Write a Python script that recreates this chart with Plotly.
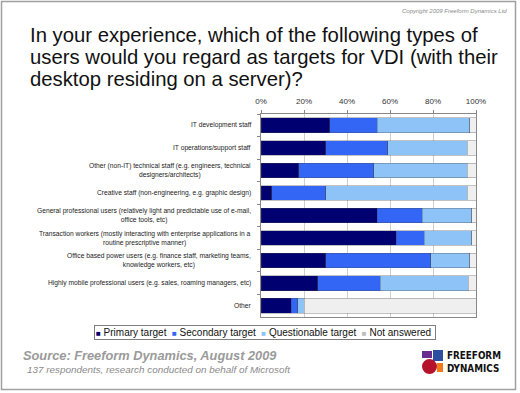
import plotly.graph_objects as go

categories = [
    "IT development staff",
    "IT operations/support staff",
    "Other (non-IT) technical staff (e.g. engineers, technical<br>designers/architects)",
    "Creative staff (non-engineering, e.g. graphic design)",
    "General professional users (relatively light and predictable use of e-mail,<br>office tools, etc)",
    "Transaction workers (mostly interacting with enterprise applications in a<br>routine prescriptive manner)",
    "Office based power users (e.g. finance staff, marketing teams,<br>knowledge workers, etc)",
    "Highly mobile professional users (e.g. sales, roaming managers, etc)",
    "Other",
]
series_names = ["Primary target", "Secondary target", "Questionable target", "Not answered"]
primary = [32, 30, 17.5, 5, 54, 63, 30, 26.5, 14]
secondary = [22, 29, 35, 25, 21, 13, 49, 29, 3]
questionable = [43, 37, 43.5, 66, 23, 22, 18, 41, 3]
not_answered = [3, 4, 4, 4, 2, 2, 3, 3.5, 80]
tick_values = [0, 20, 40, 60, 80, 100]
tick_labels = ["0%", "20%", "40%", "60%", "80%", "100%"]

series_values = [primary, secondary, questionable, not_answered]
colors = ["#000070", "#3366F5", "#8EC3F7", "#EFEFEF"]
legend_colors = ["#000070", "#3366F5", "#8EC3F7", "#BDBDBD"]

W, H = 520, 393
L, R, T, B = 261, 476, 114, 317

def px(x):
    return (x - L) / (R - L)

def py(y):
    return (B - y) / (B - T)

FONT = "Arial, Liberation Sans, sans-serif"

fig = go.Figure()
for name, vals, col in zip(series_names, series_values, colors):
    fig.add_trace(go.Bar(
        y=categories, x=vals, name=name, orientation="h",
        marker=dict(color=col, line=dict(color="rgba(70,70,70,0.55)", width=0.6)),
        showlegend=False,
    ))

fig.update_layout(
    barmode="stack", bargap=0.35,
    width=W, height=H,
    margin=dict(l=L, r=W - R, t=T, b=H - B),
    paper_bgcolor="white", plot_bgcolor="white",
    font=dict(family=FONT, color="#222222"),
    xaxis=dict(side="top", range=[0, 100], tickvals=tick_values, ticktext=tick_labels,
               showgrid=True, gridcolor="#CFCFCF", gridwidth=1,
               ticks="outside", ticklen=3, tickcolor="#888888", ticklabelstandoff=3,
               showline=True, linecolor="#888888", linewidth=1, mirror=True,
               tickfont=dict(size=8, color="#333333"), zeroline=False, fixedrange=True),
    yaxis=dict(autorange="reversed", showticklabels=False, tickson="boundaries",
               ticks="outside", ticklen=3, tickcolor="#888888",
               showline=True, linecolor="#888888", linewidth=1, mirror=True,
               showgrid=False, fixedrange=True),
)

annotations = []
# category labels
for c in categories:
    annotations.append(dict(xref="paper", yref="y", x=px(253), y=c, text=c,
                            xanchor="right", yanchor="middle", align="center",
                            showarrow=False, font=dict(size=6.7, color="#222222")))

# title lines
title_lines = [
    "In your experience, which of the following types of",
    "users would you regard as targets for VDI (with their",
    "desktop residing on a server)?",
]
for i, line in enumerate(title_lines):
    annotations.append(dict(xref="paper", yref="paper", x=px(28), y=py(35 + 22 * i), text=line,
                            xanchor="left", yanchor="middle", showarrow=False,
                            font=dict(size=20.3, color="#111111")))

# copyright
annotations.append(dict(xref="paper", yref="paper", x=px(509), y=py(11),
                        text="<i>Copyright 2009 Freeform Dynamics Ltd</i>",
                        xanchor="right", yanchor="middle", showarrow=False,
                        font=dict(size=6, color="#8A8A8A")))

# legend
parts = []
for n, c in zip(series_names, legend_colors):
    parts.append(f"<span style='color:{c};font-size:8px'>■</span> {n}")
annotations.append(dict(xref="paper", yref="paper", x=px(264.5), y=py(332),
                        text="&nbsp;&nbsp;".join(parts) + "&nbsp;", xanchor="center", yanchor="middle",
                        showarrow=False, bordercolor="#7F7F7F", borderwidth=1, borderpad=1,
                        bgcolor="white", font=dict(size=10, color="#111111")))

# source
annotations.append(dict(xref="paper", yref="paper", x=px(21), y=py(355),
                        text="<b><i>Source: Freeform Dynamics, August 2009</i></b>",
                        xanchor="left", yanchor="middle", showarrow=False,
                        font=dict(size=12.8, color="#9A9A9A")))
annotations.append(dict(xref="paper", yref="paper", x=px(25), y=py(369),
                        text="<i>137 respondents, research conducted on behalf of Microsoft</i>",
                        xanchor="left", yanchor="middle", showarrow=False,
                        font=dict(size=9.9, color="#8A8A8A")))

# logo text
LOGO_FONT = "Liberation Sans Narrow, DejaVu Sans Condensed, Arial Narrow, sans-serif"
annotations.append(dict(xref="paper", yref="paper", x=px(444.5), y=py(361.5),
                        text="<b>FREEFORM</b><br><b>DYNAMICS</b>", xanchor="left", yanchor="middle",
                        align="left", showarrow=False,
                        font=dict(family=LOGO_FONT, size=9.8, color="#111111")))

shapes = []
# outer frame
shapes.append(dict(type="rect", xref="paper", yref="paper",
                   x0=px(1.5), x1=px(515.5), y0=py(1.5), y1=py(389.5),
                   line=dict(color="#A0A0A0", width=1.5), fillcolor="rgba(0,0,0,0)", layer="below"))
# logo squares
shapes.append(dict(type="rect", xref="paper", yref="paper", x0=px(422), x1=px(432), y0=py(358), y1=py(351),
                   line=dict(width=0), fillcolor="#6A2C8E"))
shapes.append(dict(type="rect", xref="paper", yref="paper", x0=px(433), x1=px(443), y0=py(361), y1=py(350),
                   line=dict(width=0), fillcolor="#2E4FA0"))
shapes.append(dict(type="circle", xref="paper", yref="paper", x0=px(422), x1=px(437), y0=py(374), y1=py(359),
                   line=dict(width=0), fillcolor="#B5122B"))
shapes.append(dict(type="rect", xref="paper", yref="paper", x0=px(437), x1=px(443), y0=py(372), y1=py(363),
                   line=dict(width=0), fillcolor="#F07A1A"))

fig.update_layout(annotations=annotations, shapes=shapes)
fig.write_html("out.html", config={"displayModeBar": False},
               post_script="document.body.style.margin='0';document.body.style.overflow='hidden';")
